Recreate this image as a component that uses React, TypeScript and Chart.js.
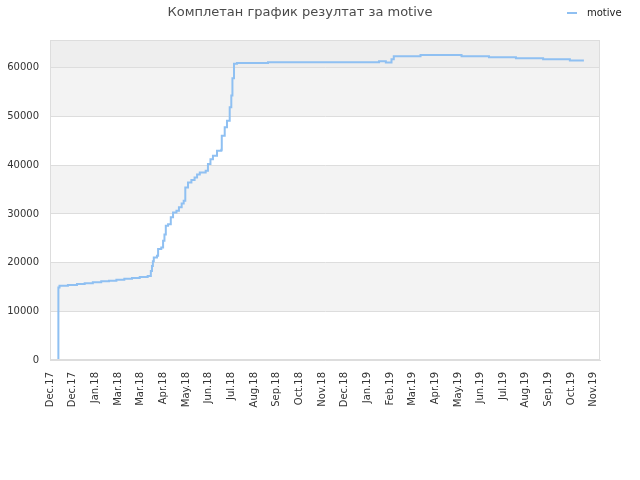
import React, { useEffect, useRef } from "react";
import { Chart, registerables } from "chart.js";

Chart.register(...registerables);

const TITLE = "Комплетан график резултат за motive";
const SERIES_NAME = "motive";

const xLabels = [
  "Dec.17", "Dec.17", "Jan.18", "Mar.18", "Mar.18", "Apr.18", "May.18", "Jun.18",
  "Jul.18", "Aug.18", "Sep.18", "Oct.18", "Nov.18", "Dec.18", "Jan.19", "Feb.19",
  "Mar.19", "Apr.19", "May.19", "Jun.19", "Jul.19", "Aug.19", "Sep.19", "Oct.19", "Nov.19",
];

const yTicks = [0, 10000, 20000, 30000, 40000, 50000, 60000];
const Y_MAX = 65700;
const X_MAX = 24.27;

// position along the date axis, in label-interval units
const stepX = [
  0.37, 0.37, 0.42, 0.79, 1.19, 1.53, 1.89, 2.26, 2.6, 2.93, 3.28, 3.62, 3.96, 4.31,
  4.45, 4.5, 4.54, 4.58, 4.72, 4.77, 4.91, 4.99, 5.05, 5.11, 5.21, 5.33, 5.43, 5.58,
  5.69, 5.81, 5.9, 5.97, 6.09, 6.24, 6.38, 6.49, 6.61, 6.87, 6.97, 7.08, 7.19, 7.37,
  7.56, 7.58, 7.71, 7.81, 7.93, 8.0, 8.05, 8.12, 8.25, 9.62, 14.52, 14.82, 15.07,
  15.17, 16.35, 18.16, 19.37, 20.56, 21.76, 22.94, 23.56,
];
const stepValues = [
  0, 14900, 15250, 15400, 15600, 15750, 15950, 16150, 16300, 16500, 16700, 16850, 17050, 17250,
  18300, 19300, 20300, 21050, 21400, 22800, 23100, 24500, 25800, 27550, 27900, 29300, 30300, 30650,
  31350, 32150, 32700, 35450, 36450, 36950, 37500, 38100, 38500, 38850, 40250, 41250, 41950, 43000,
  43200, 46050, 47800, 49150, 51900, 54300, 57850, 60850, 61000, 61150, 61350, 61080, 61750,
  62380, 62650, 62380, 62180, 61970, 61770, 61490, 61490,
];

const LINE_COLOR = "#8fc0f2";
const FONT = "'DejaVu Sans', sans-serif";

const backgroundPlugin = {
  id: "bands",
  beforeDraw(chart: any) {
    const { ctx, chartArea, scales } = chart;
    const y = scales.y;
    const { left, right, top, bottom } = chartArea;
    ctx.save();
    ctx.fillStyle = "#ffffff";
    ctx.fillRect(left, top, right - left, bottom - top);
    ctx.fillStyle = "#f3f3f3";
    for (let i = 1; i < yTicks.length - 1; i += 2) {
      const y1 = y.getPixelForValue(yTicks[i]);
      const y2 = y.getPixelForValue(yTicks[i + 1]);
      ctx.fillRect(left, y2, right - left, y1 - y2);
    }
    ctx.fillStyle = "#eeeeee";
    const yTop = y.getPixelForValue(yTicks[yTicks.length - 1]);
    ctx.fillRect(left, top, right - left, yTop - top);
    ctx.restore();
  },
  afterDraw(chart: any) {
    const { ctx, chartArea } = chart;
    const { left, right, top, bottom } = chartArea;
    ctx.save();
    ctx.strokeStyle = "#dddddd";
    ctx.lineWidth = 1;
    ctx.strokeRect(Math.round(left) + 0.5, Math.round(top) + 0.5, Math.round(right - left) - 1, Math.round(bottom - top) - 1);
    // legend
    const lx = 567;
    const ly = 13;
    ctx.strokeStyle = LINE_COLOR;
    ctx.lineWidth = 2;
    ctx.beginPath();
    ctx.moveTo(lx, ly);
    ctx.lineTo(lx + 10, ly);
    ctx.stroke();
    ctx.fillStyle = "#222222";
    ctx.font = `10px ${FONT}`;
    ctx.textAlign = "left";
    ctx.textBaseline = "middle";
    ctx.fillText(SERIES_NAME, lx + 20, ly);
    ctx.restore();
  },
};

export default function App() {
  const canvasRef = useRef<HTMLCanvasElement | null>(null);

  useEffect(() => {
    const canvas = canvasRef.current;
    if (!canvas) return;
    const data = stepX.map((x, i) => ({ x, y: stepValues[i] }));
    const chart = new Chart(canvas, {
      type: "line",
      data: {
        datasets: [
          {
            label: SERIES_NAME,
            data,
            stepped: true,
            borderColor: LINE_COLOR,
            backgroundColor: LINE_COLOR,
            borderWidth: 2,
            pointRadius: 0,
            fill: false,
          },
        ],
      },
      plugins: [backgroundPlugin],
      options: {
        animation: false,
        responsive: true,
        maintainAspectRatio: false,
        devicePixelRatio: 1,
        layout: { padding: { top: 0, right: 40, bottom: 0, left: 0 } },
        plugins: {
          legend: { display: false },
          tooltip: { enabled: false },
          title: {
            display: true,
            text: TITLE,
            color: "#4a4a4a",
            font: { family: FONT, size: 13, weight: "normal" },
            padding: { top: 5, bottom: 19.5 },
          },
        },
        scales: {
          x: {
            type: "linear",
            min: 0,
            max: X_MAX,
            afterBuildTicks: (axis: any) => {
              axis.ticks = xLabels.map((_, i) => ({ value: i }));
            },
            afterFit: (axis: any) => {
              axis.height = 120;
            },
            grid: { display: false, drawTicks: false },
            border: { display: true, color: "#dddddd" },
            ticks: {
              autoSkip: false,
              maxRotation: 90,
              minRotation: 90,
              padding: 12,
              color: "#333333",
              font: { family: FONT, size: 10 },
              callback: (_v: any, index: number) => xLabels[index],
            },
          },
          y: {
            min: 0,
            max: Y_MAX,
            afterBuildTicks: (axis: any) => {
              axis.ticks = yTicks.map((v) => ({ value: v }));
            },
            afterFit: (axis: any) => {
              axis.width = 50;
            },
            grid: { color: "#dddddd", drawTicks: false },
            border: { display: true, color: "#dddddd" },
            ticks: {
              padding: 11,
              color: "#333333",
              font: { family: FONT, size: 10 },
              callback: (v: any) => String(v),
            },
          },
        },
      },
    });
    return () => chart.destroy();
  }, []);

  return (
    <div style={{ position: "fixed", left: 0, top: 0, width: 640, height: 480, background: "#ffffff" }}>
      <canvas ref={canvasRef} />
    </div>
  );
}
